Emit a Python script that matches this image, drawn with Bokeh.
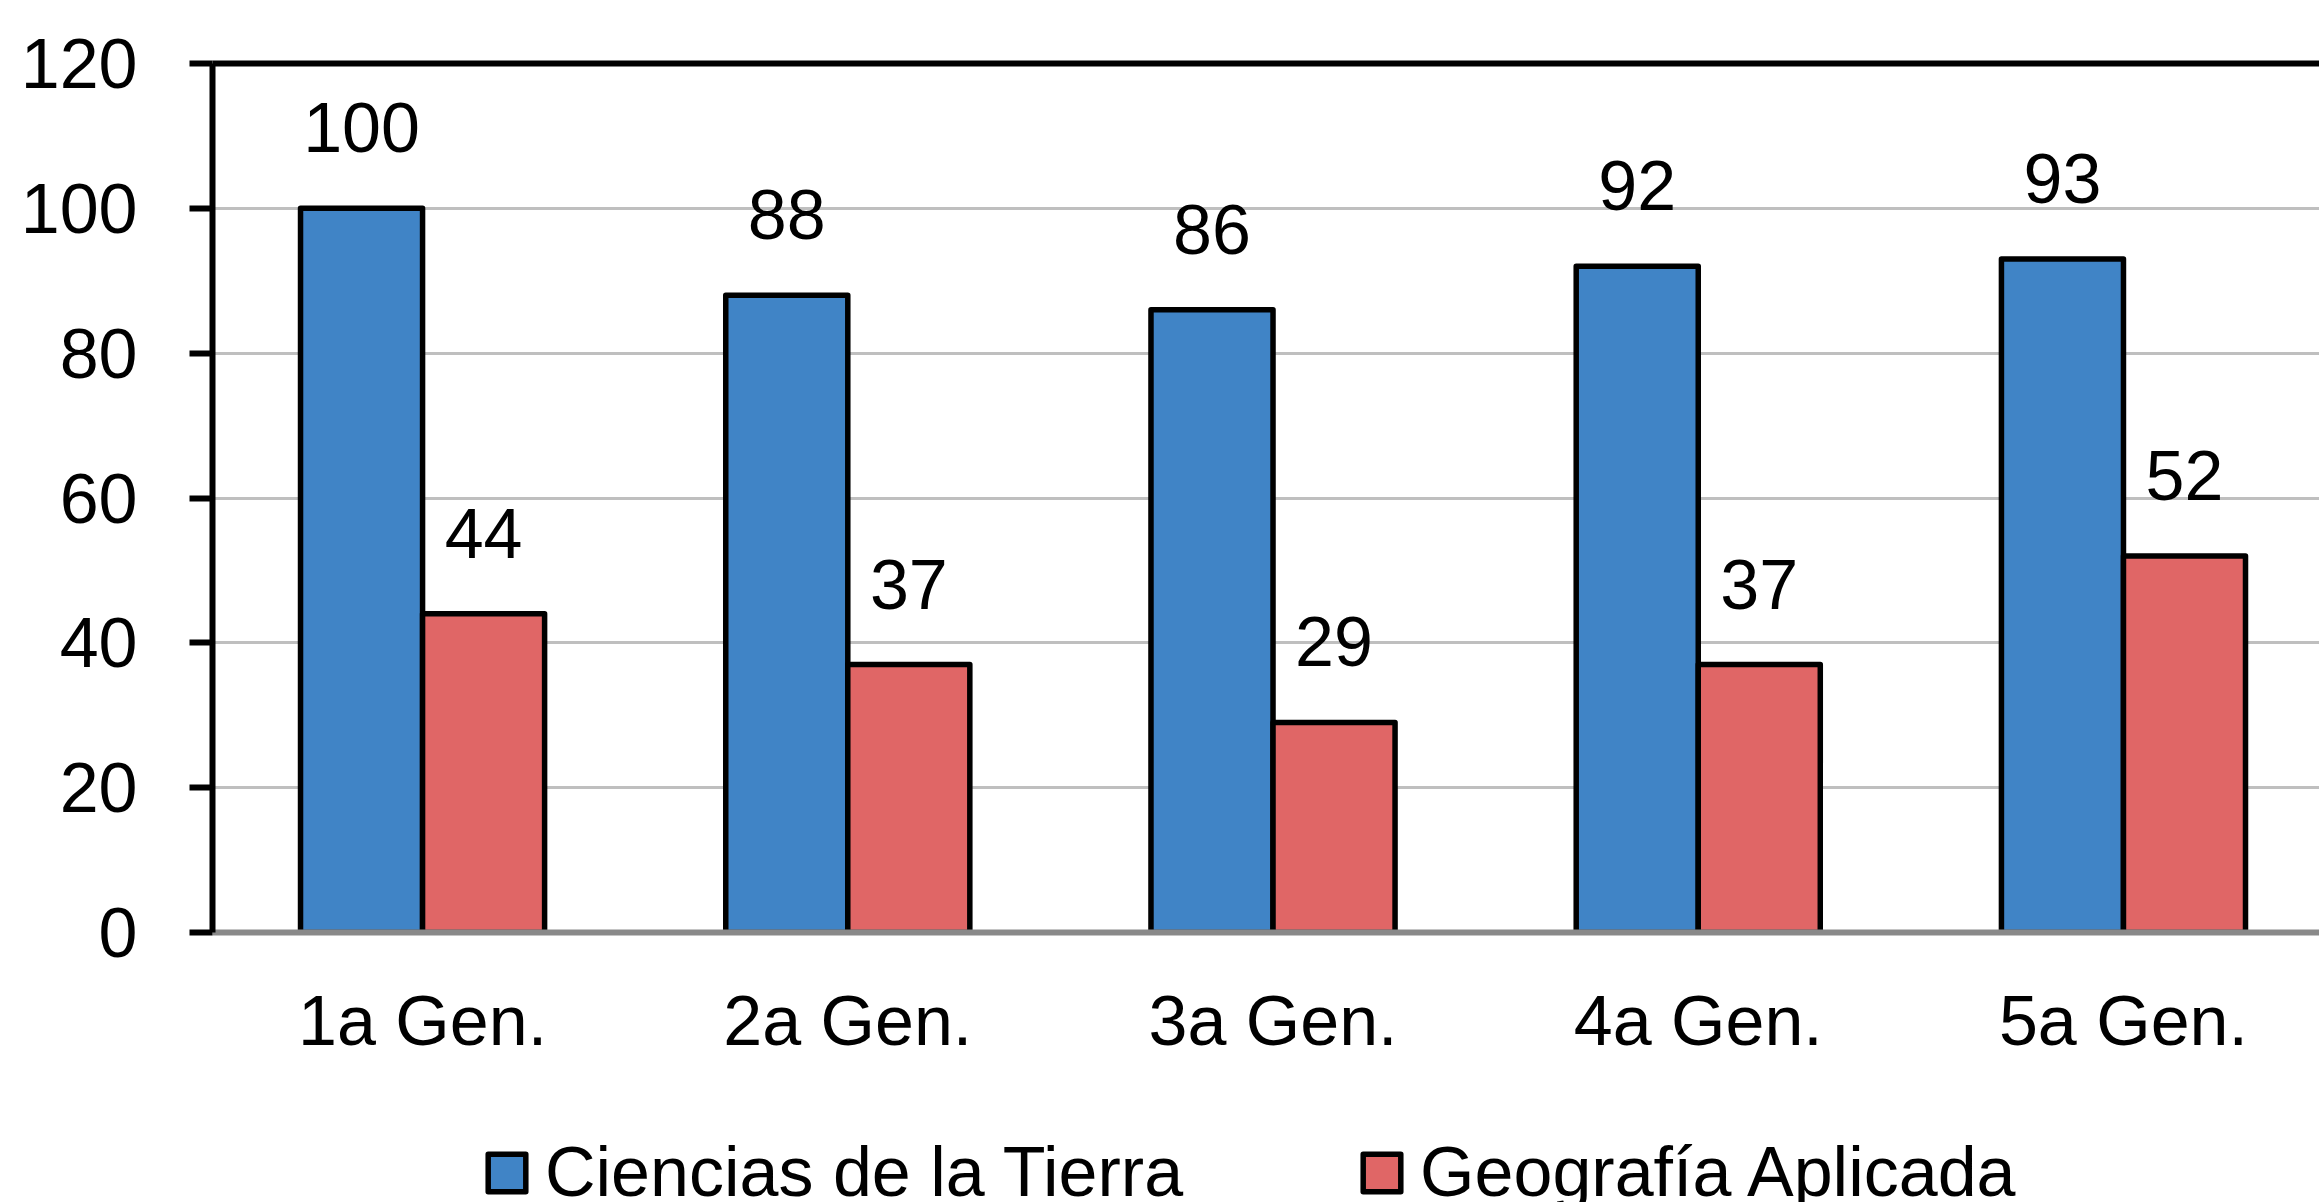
import numpy as np
from bokeh.plotting import figure
from bokeh.layouts import column
from bokeh.models import (Range1d, FixedTicker, LinearAxis, Legend, LegendItem,
                          ColumnDataSource, LabelSet)
from bokeh.core.properties import value
from bokeh.embed import file_html
from bokeh.resources import INLINE

# ---- data ----
categories = ["1a Gen.", "2a Gen.", "3a Gen.", "4a Gen.", "5a Gen."]
ciencias = [100, 88, 86, 92, 93]
geografia = [44, 37, 29, 37, 52]
series_names = ["Ciencias de la Tierra", "Geografía Aplicada"]
y_ticks = [0, 20, 40, 60, 80, 100, 120]

FONT = "Liberation Sans"
FS = "70px"
BLUE = "#4084C6"
RED = "#E06666"

idx = np.arange(len(categories)) + 0.5
bw = 0.287
off = bw / 2

src_a = ColumnDataSource(dict(x=idx - off, top=ciencias, lab=[str(v) for v in ciencias]))
src_b = ColumnDataSource(dict(x=idx + off, top=geografia, lab=[str(v) for v in geografia]))

p = figure(width=2319, height=1080, output_backend="svg", toolbar_location=None,
           x_range=Range1d(0.006, 4.961), y_range=Range1d(0, 120),
           min_border_left=212, min_border_right=0, min_border_top=63,
           min_border_bottom=148)
p.outline_line_color = None
p.background_fill_color = "white"
p.border_fill_color = "white"

bar_style = dict(line_color="black", line_width=5.5, line_join="round")
r_a = p.vbar(x="x", top="top", width=bw, bottom=0, source=src_a, fill_color=BLUE, **bar_style)
r_b = p.vbar(x="x", top="top", width=bw, bottom=0, source=src_b, fill_color=RED, **bar_style)

for s in (src_a, src_b):
    p.add_layout(LabelSet(x="x", y="top", text="lab", source=s, y_offset=56,
                          text_align="center", text_baseline="alphabetic",
                          text_font=value(FONT), text_font_size=value(FS),
                          text_color="black"))

# y axis
yax = p.yaxis[0]
yax.ticker = FixedTicker(ticks=y_ticks)
yax.axis_line_color = "black"
yax.axis_line_width = 6
yax.major_tick_line_color = "black"
yax.major_tick_line_width = 6
yax.major_tick_out = 23
yax.major_tick_in = 0
yax.minor_tick_line_color = None
yax.major_label_text_font = FONT
yax.major_label_text_font_size = FS
yax.major_label_text_color = "black"
yax.major_label_standoff = 52

# x axis
xax = p.xaxis[0]
xax.ticker = FixedTicker(ticks=list(idx))
xax.major_label_overrides = {float(v): c for v, c in zip(idx, categories)}
xax.axis_line_color = "#898989"
xax.axis_line_width = 6
xax.major_tick_line_color = None
xax.minor_tick_line_color = None
xax.major_tick_out = 0
xax.major_tick_in = 0
xax.major_label_text_font = FONT
xax.major_label_text_font_size = FS
xax.major_label_text_color = "black"
xax.major_label_standoff = 49

# top border line
top = LinearAxis(ticker=FixedTicker(ticks=[]), axis_line_color="black", axis_line_width=6,
                 major_tick_line_color=None, minor_tick_line_color=None,
                 major_label_text_font_size="0px")
p.add_layout(top, "above")

p.xgrid.grid_line_color = None
p.ygrid.ticker = FixedTicker(ticks=y_ticks)
p.ygrid.grid_line_color = "#BFBFBF"
p.ygrid.grid_line_width = 3

# legend strip (separate figure below the chart); its renderers are hidden
lg = figure(width=2319, height=122, output_backend="svg", toolbar_location=None,
            x_range=Range1d(0, 1), y_range=Range1d(0, 1),
            min_border_left=0, min_border_right=0, min_border_top=0, min_border_bottom=0)
lg.axis.visible = False
lg.grid.visible = False
lg.outline_line_color = None
la = lg.vbar(x="x", top="top", width=bw, source=src_a, fill_color=BLUE, visible=False, **bar_style)
lb = lg.vbar(x="x", top="top", width=bw, source=src_b, fill_color=RED, visible=False, **bar_style)

legend = Legend(items=[LegendItem(label=series_names[0], renderers=[la]),
                       LegendItem(label=series_names[1], renderers=[lb])],
                orientation="horizontal", location=(271, -10),
                glyph_width=47, glyph_height=47, label_standoff=15, spacing=175,
                padding=0, margin=0, border_line_color=None, background_fill_alpha=0,
                label_text_font=FONT, label_text_font_size=FS, label_text_color="black")
lg.add_layout(legend, "center")

layout = column(p, lg, spacing=0)
open("out.html", "w").write(file_html(layout, INLINE))
